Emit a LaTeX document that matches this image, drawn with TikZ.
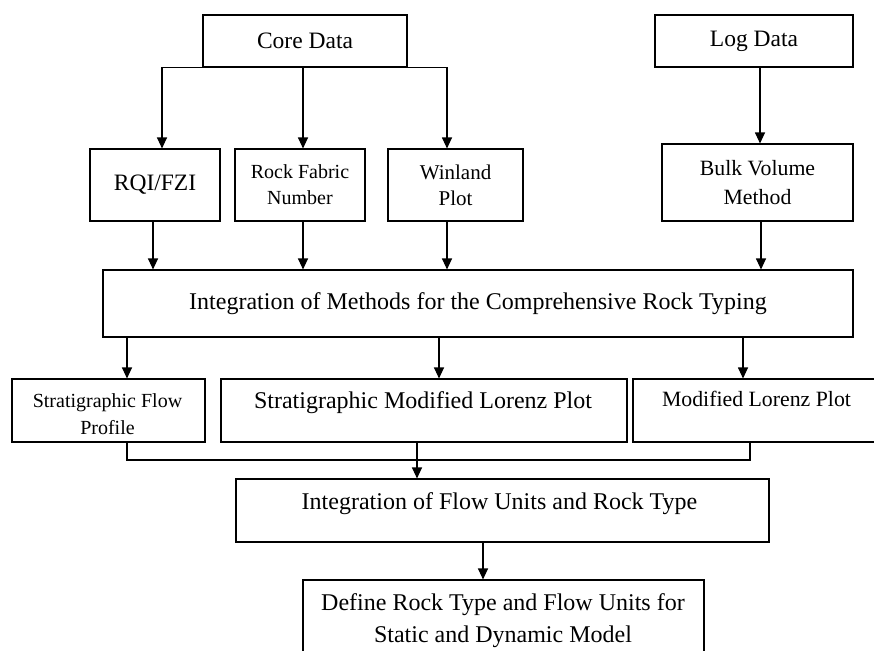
\documentclass[tikz,border=0pt]{standalone}
\usepackage{fontspec}
\setmainfont{Liberation Serif}
\usetikzlibrary{arrows.meta}
\begin{document}
\begin{tikzpicture}[x=1pt,y=-1pt,
  box/.style={draw, line width=1.1pt, inner sep=0pt, align=center},
  big/.style={font=\fontsize{24}{30}\selectfont},
  small/.style={font=\fontsize{20}{26}\selectfont},
  mid/.style={font=\fontsize{21.8}{29}\selectfont},
  txt/.style={inner sep=0pt, align=center},
  arr/.style={line width=1.1pt, -{Triangle[width=10pt,length=11pt]}},
  ln/.style={line width=1.1pt}]
\clip (0,0) rectangle (874,650);
\fill[white] (0,0) rectangle (874,650);
% top row
\node[box, font=\fontsize{23.5}{30}\selectfont, minimum width=204pt, minimum height=52pt] (core) at (305,41) {Core Data};
\node[box, font=\fontsize{23.5}{30}\selectfont, minimum width=198pt, minimum height=52pt] (log) at (754,41) {Log Data};
% second row
\node[box, font=\fontsize{23.5}{30}\selectfont, minimum width=130pt, minimum height=72pt] (rqi) at (155,185) {RQI/FZI};
\node[box, small, minimum width=130pt, minimum height=72pt] (rfn) at (300,185) {Rock Fabric\\Number};
\node[box, font=\fontsize{21}{26}\selectfont, minimum width=135pt, minimum height=72pt] (win) at (455.5,185) {Winland\\Plot};
\node[box, mid, minimum width=191pt, minimum height=77pt] (bulk) at (757.5,182.5) {Bulk Volume\\Method};
% integration
\node[box, big, minimum width=750pt, minimum height=67pt] (integ) at (478,303.5) {Integration of Methods for the Comprehensive Rock Typing};
% third row
\node[box, minimum width=193pt, minimum height=63pt] (sfp) at (108.5,410.5) {};
\node[txt, font=\fontsize{20}{27}\selectfont] (sfpt) at (107.5,414) {Stratigraphic Flow\\Profile};
\node[box, minimum width=406pt, minimum height=63pt] (smlp) at (424,410.5) {};
\node[txt, big, anchor=base] (smlpt) at (423,408) {Stratigraphic Modified Lorenz Plot};
\node[box, minimum width=247pt, minimum height=63pt] (mlp) at (756.5,410.5) {};
\node[txt, mid, anchor=base] (mlpt) at (756.5,406) {Modified Lorenz Plot};
% fourth row
\node[box, minimum width=533pt, minimum height=63pt] (ifr) at (502.5,510.5) {};
\node[txt, big, anchor=base] (ifrt) at (499.5,509) {Integration of Flow Units and Rock Type};
\node[box, minimum width=401pt, minimum height=90pt] (def) at (503.5,625) {};
\node[txt, font=\fontsize{24}{32}\selectfont] (deft) at (503,620.5) {Define Rock Type and Flow Units for\\Static and Dynamic Model};
% connectors from core / log
\draw[arr] (core.south west) -| ([xshift=7pt]rqi.north);
\draw[arr] ([xshift=3pt]rfn.north |- core.south) -- ([xshift=3pt]rfn.north);
\draw[arr] (core.south east) -| ([xshift=-8.5pt]win.north);
\draw[arr] ([xshift=2.5pt]bulk.north |- log.south) -- ([xshift=2.5pt]bulk.north);
% second row to integration
\draw[arr] ([xshift=-2pt]rqi.south) -- ([xshift=-2pt]rqi.south |- integ.north);
\draw[arr] ([xshift=3pt]rfn.south) -- ([xshift=3pt]rfn.south |- integ.north);
\draw[arr] ([xshift=-8.5pt]win.south) -- ([xshift=-8.5pt]win.south |- integ.north);
\draw[arr] ([xshift=3.5pt]bulk.south) -- ([xshift=3.5pt]bulk.south |- integ.north);
% integration to third row
\draw[arr] ([xshift=18.5pt]sfp.north |- integ.south) -- ([xshift=18.5pt]sfp.north);
\draw[arr] ([xshift=15pt]smlp.north |- integ.south) -- ([xshift=15pt]smlp.north);
\draw[arr] ([xshift=-13.5pt]mlp.north |- integ.south) -- ([xshift=-13.5pt]mlp.north);
% merge
\coordinate (jn) at (417,460);
\draw[ln] ([xshift=18.5pt]sfp.south) |- (jn) -| ([xshift=-6.5pt]mlp.south);
\draw[arr] ([xshift=-7pt]smlp.south) -- ([xshift=-7pt]smlp.south |- ifr.north);
\draw[arr] ([xshift=-19.5pt]ifr.south) -- ([xshift=-19.5pt]ifr.south |- def.north);
\end{tikzpicture}
\end{document}
